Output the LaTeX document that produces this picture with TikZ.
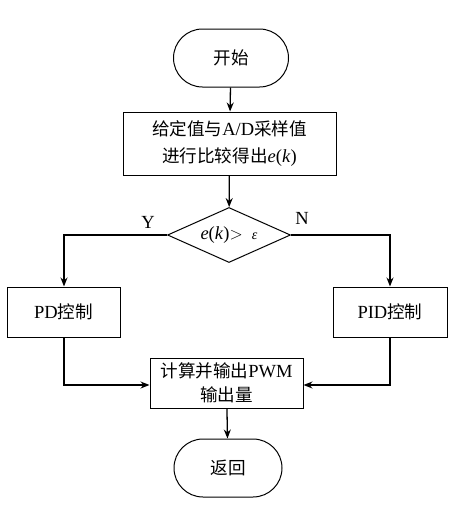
\documentclass[tikz,border=0pt]{standalone}
\usepackage{fontspec}
\setmainfont{Liberation Serif}
\newfontfamily\cjk{Noto Sans CJK SC}[Scale=0.95]
\usetikzlibrary{shapes.geometric,arrows.meta}
\newcommand{\zh}[1]{{\cjk #1}}
\begin{document}
\begin{tikzpicture}[x=1pt,y=-1pt,
  every node/.style={font=\fontsize{18.5}{28}\selectfont},
  term/.style={draw,line width=1pt,rounded corners=29pt,minimum width=115pt,minimum height=58pt,inner sep=0pt},
  procbox/.style={draw,line width=1pt,inner sep=0pt,align=center},
  decis/.style={draw,line width=1pt,diamond,aspect=2.24,minimum width=123pt,minimum height=55pt,inner sep=0pt},
  flow/.style={line width=1.3pt,-{Stealth[length=9pt,width=7pt]}},
  line/.style={line width=1.3pt}]
\useasboundingbox (0,0) rectangle (454,509);
\node[term] (start) at (231,58) {\zh{开始}};
\node[procbox,minimum width=213pt,minimum height=63pt] (cmp) at (229.5,143.5) {\zh{给定值与}A/D\zh{采样值}\\[-1pt]\zh{进行比较得出}\textit{e}(\textit{k})};
\node[decis] (dec) at (229,235) {\textit{e}(\textit{k})$>$\ \ {\fontsize{14}{16}\selectfont\textit{ε}}};
\node[procbox,minimum width=113pt,minimum height=50pt] (pd) at (63.5,312) {PD\zh{控制}};
\node[procbox,minimum width=114pt,minimum height=50pt] (pid) at (390,312) {PID\zh{控制}};
\node[procbox,minimum width=153pt,minimum height=50pt] (out) at (226.5,383) {\zh{计算并输出}PWM\\[-4pt]\zh{输出量}};
\node[term,minimum width=108pt] (ret) at (228,468) {\zh{返回}};
\node (y) at (148,222) {Y};
\node (n) at (302,218) {N};
\coordinate (lc) at (64,235);
\coordinate (rc) at (390,235);
\coordinate (lb) at (64,385);
\coordinate (rb) at (390,385);
\draw[flow] (start) -- (cmp);
\draw[flow] (cmp) -- (dec);
\draw[flow] (dec.west) -- (lc) -- (pd.north -| lc);
\draw[flow] (dec.east) -- (rc) -- (pid.north);
\draw[flow] (pd.south -| lb) -- (lb) -- (lb -| out.west);
\draw[flow] (pid.south) -- (rb) -- (rb -| out.east);
\draw[flow] (out) -- (ret);
\end{tikzpicture}
\end{document}
